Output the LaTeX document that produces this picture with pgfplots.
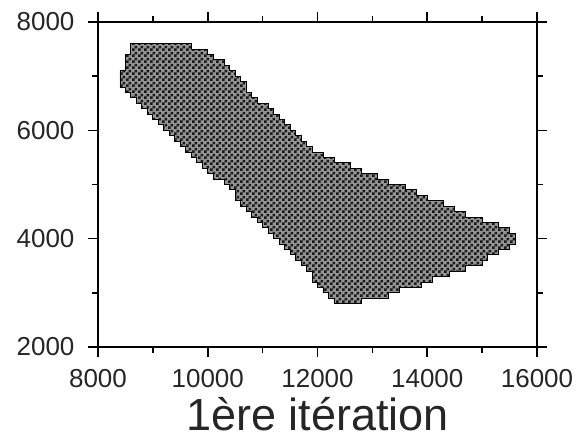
\documentclass[border=0pt]{standalone}
\usepackage{fontspec}
\setmainfont{Liberation Sans}
\usepackage{pgfplots}
\pgfplotsset{compat=1.18}
\usetikzlibrary{patterns}
\pgfdeclarepatternformonly{finecheck}{\pgfqpoint{0pt}{0pt}}{\pgfqpoint{6pt}{6pt}}{\pgfqpoint{6pt}{6pt}}{%
  \pgfpathrectangle{\pgfqpoint{0pt}{0pt}}{\pgfqpoint{3pt}{3pt}}%
  \pgfpathrectangle{\pgfqpoint{3pt}{3pt}}{\pgfqpoint{3pt}{3pt}}%
  \pgfusepath{fill}}
\begin{document}
\begin{tikzpicture}
\begin{axis}[name=ax, scale only axis, width=439pt, height=325pt,
  xmin=8000, xmax=16000, ymin=2000, ymax=8000,
  xtick={8000,10000,12000,14000,16000}, ytick={2000,4000,6000,8000},
  minor x tick num=1, minor y tick num=1,
  tick align=outside, major tick length=10pt, minor tick length=6pt,
  axis line style={line width=1.6pt},
  tick style={black, line width=1.6pt},
  scaled ticks=false,
  /pgf/number format/1000 sep={}, /pgf/number format/assume math mode=true,
  tick label style={font=\fontsize{26}{26}\selectfont, text=black!85},
  xticklabel shift=9pt, yticklabel shift=10pt,
  xlabel={1ère itération}, xlabel style={font=\fontsize{45}{45}\selectfont, text=black!85, yshift=-5pt, inner sep=1pt},
]
\addplot[draw=black, line width=0.9pt, fill=black!42,
  postaction={pattern=finecheck, pattern color=black!90}] coordinates {
(8600,7600) (9700,7600) (9700,7500) (10000,7500) (10000,7400) (10100,7400)
(10100,7300) (10300,7300) (10300,7200) (10400,7200) (10400,7100) (10500,7100)
(10500,7000) (10600,7000) (10600,6900) (10700,6900) (10700,6700) (10800,6700)
(10800,6600) (10900,6600) (10900,6500) (11100,6500) (11100,6400) (11200,6400)
(11200,6300) (11300,6300) (11300,6200) (11400,6200) (11400,6100) (11500,6100)
(11500,6000) (11600,6000) (11600,5900) (11700,5900) (11700,5800) (11800,5800)
(11800,5700) (11900,5700) (11900,5600) (12100,5600) (12100,5500) (12300,5500)
(12300,5400) (12600,5400) (12600,5300) (12800,5300) (12800,5200) (13100,5200)
(13100,5100) (13300,5100) (13300,5000) (13600,5000) (13600,4900) (13800,4900)
(13800,4800) (14000,4800) (14000,4700) (14300,4700) (14300,4600) (14500,4600)
(14500,4500) (14700,4500) (14700,4400) (15000,4400) (15000,4300) (15300,4300)
(15300,4200) (15500,4200) (15500,4100) (15600,4100) (15600,3900) (15500,3900)
(15500,3800) (15300,3800) (15300,3700) (15100,3700) (15100,3600) (15000,3600)
(15000,3500) (14700,3500) (14700,3400) (14400,3400) (14400,3300) (14100,3300)
(14100,3200) (13900,3200) (13900,3100) (13500,3100) (13500,3000) (13300,3000)
(13300,2900) (12800,2900) (12800,2800) (12300,2800) (12300,2900) (12200,2900)
(12200,3000) (12100,3000) (12100,3100) (12000,3100) (12000,3200) (11900,3200)
(11900,3400) (11800,3400) (11800,3500) (11700,3500) (11700,3600) (11600,3600)
(11600,3700) (11500,3700) (11500,3800) (11400,3800) (11400,3900) (11300,3900)
(11300,4000) (11200,4000) (11200,4100) (11100,4100) (11100,4200) (11000,4200)
(11000,4300) (10900,4300) (10900,4400) (10800,4400) (10800,4500) (10700,4500)
(10700,4600) (10600,4600) (10600,4700) (10500,4700) (10500,4900) (10400,4900)
(10400,5000) (10300,5000) (10300,5100) (10100,5100) (10100,5200) (10000,5200)
(10000,5300) (9900,5300) (9900,5400) (9800,5400) (9800,5500) (9700,5500)
(9700,5600) (9600,5600) (9600,5700) (9500,5700) (9500,5800) (9400,5800)
(9400,5900) (9300,5900) (9300,6000) (9200,6000) (9200,6100) (9100,6100)
(9100,6200) (9000,6200) (9000,6300) (8900,6300) (8900,6400) (8800,6400)
(8800,6500) (8700,6500) (8700,6600) (8600,6600) (8600,6700) (8500,6700)
(8500,6800) (8400,6800) (8400,7100) (8500,7100) (8500,7400) (8600,7400)
} -- cycle;
\end{axis}
\pgfresetboundingbox
\path[use as bounding box] ([xshift=-98pt,yshift=-99pt]ax.south west) rectangle ([xshift=45pt,yshift=22pt]ax.north east);
\end{tikzpicture}
\end{document}
